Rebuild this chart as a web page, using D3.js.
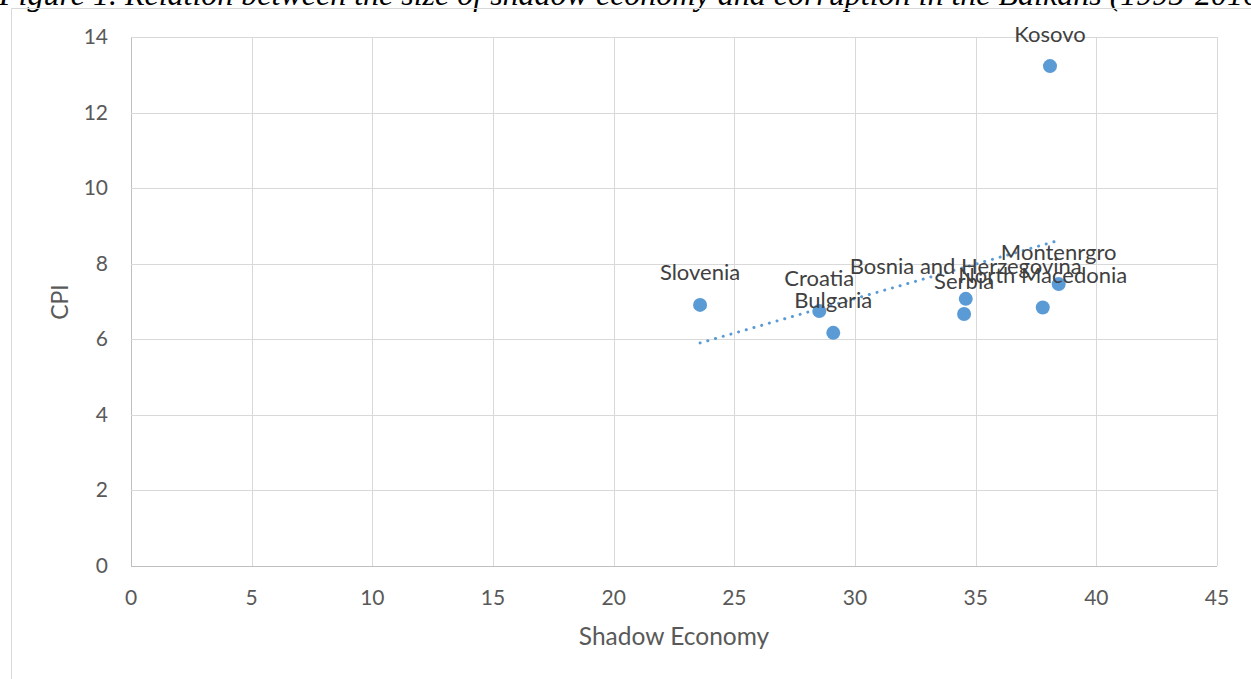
<!DOCTYPE html>
<html><head><meta charset="utf-8">
<script src="https://cdn.jsdelivr.net/npm/d3@7"></script>
<style>body{margin:0;background:#fff}svg{display:block}</style>
</head><body>
<script>
const countries = ["Slovenia","Croatia","Bulgaria","Bosnia and Herzegovina","Serbia","North Macedonia","Montenrgro","Kosovo"];
const shadowEconomy = [23.58, 28.52, 29.10, 34.59, 34.52, 37.78, 38.44, 38.08];
const cpi = [6.91, 6.75, 6.17, 7.07, 6.67, 6.84, 7.46, 13.23];
const xTicks = [0,5,10,15,20,25,30,35,40,45];
const yTicks = [0,2,4,6,8,10,12,14];

const W=1251,H=679;
const svg=d3.select("body").append("svg").attr("width",W).attr("height",H);
const x=d3.scaleLinear().domain([0,45]).range([131,1217]);
const y=d3.scaleLinear().domain([0,14]).range([566,37]);
const font="Lato, 'Open Sans', sans-serif";

svg.append("text").attr("x",-1).attr("y",5).attr("font-family","'Liberation Serif', 'Times New Roman', serif")
  .attr("font-style","italic").attr("font-size",32).attr("fill","#000")
  .text("Figure 1. Relation between the size of shadow economy and corruption in the Balkans (1995-2016)");

svg.append("path").attr("d",`M11.5,${H}V8.5H${W}`).attr("fill","none").attr("stroke","#d9d9d9");

const g=svg.append("g");
g.selectAll(".vg").data(xTicks).join("line").attr("x1",d=>Math.round(x(d))+0.5).attr("x2",d=>Math.round(x(d))+0.5)
 .attr("y1",y(14)).attr("y2",y(0)).attr("stroke",d=>d===0?"#bfbfbf":"#d9d9d9");
g.selectAll(".hg").data(yTicks).join("line").attr("y1",d=>Math.round(y(d))+0.5).attr("y2",d=>Math.round(y(d))+0.5)
 .attr("x1",x(0)).attr("x2",x(45)).attr("stroke",d=>d===0?"#bfbfbf":"#d9d9d9");

g.selectAll(".xt").data(xTicks).join("text").attr("x",d=>x(d)).attr("y",605).attr("text-anchor","middle")
 .attr("font-family",font).attr("font-size",21).attr("fill","#595959").text(d=>d);
g.selectAll(".yt").data(yTicks).join("text").attr("x",108).attr("y",d=>y(d)+7).attr("text-anchor","end")
 .attr("font-family",font).attr("font-size",21).attr("fill","#595959").text(d=>d);

svg.append("text").attr("x",674).attr("y",645).attr("text-anchor","middle").attr("font-family",font)
 .attr("font-size",24.5).attr("fill","#595959").text("Shadow Economy");
svg.append("text").attr("transform","translate(68,302) rotate(-90)").attr("text-anchor","middle").attr("font-family",font)
 .attr("font-size",23).attr("fill","#595959").text("CPI");

const data=countries.map((c,i)=>({c,x:shadowEconomy[i],y:cpi[i]}));
// linear trendline (least squares over the series)
const mx=d3.mean(shadowEconomy),my=d3.mean(cpi);
const slope=d3.sum(data,d=>(d.x-mx)*(d.y-my))/d3.sum(data,d=>(d.x-mx)**2);
const b=my-slope*mx;
const x0=d3.min(shadowEconomy),x1=d3.max(shadowEconomy);
svg.append("line").attr("x1",x(x0)).attr("y1",y(slope*x0+b)).attr("x2",x(x1)).attr("y2",y(slope*x1+b))
 .attr("stroke","#5b9bd5").attr("stroke-width",3).attr("stroke-linecap","round").attr("stroke-dasharray","0.1 7.9");

svg.selectAll(".pt").data(data).join("circle").attr("cx",d=>x(d.x)).attr("cy",d=>y(d.y)).attr("r",7).attr("fill","#5b9bd5");
svg.selectAll(".lb").data(data).join("text").attr("x",d=>x(d.x)).attr("y",d=>y(d.y)-24.5).attr("text-anchor","middle")
 .attr("font-family",font).attr("font-size",22).attr("fill","#404040").text(d=>d.c);
</script>
</body></html>
